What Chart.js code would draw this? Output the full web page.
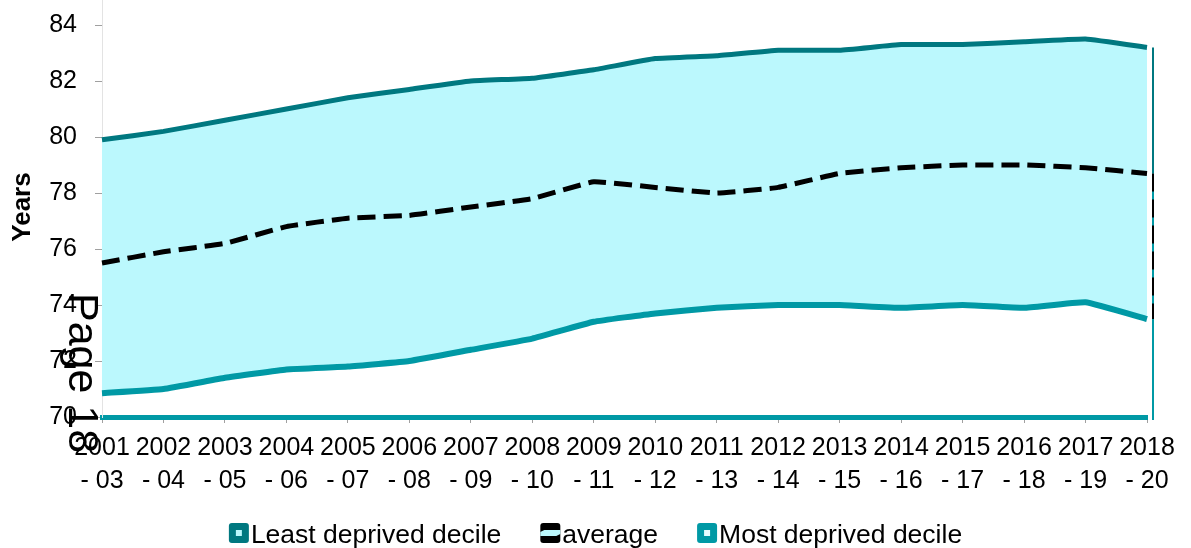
<!DOCTYPE html>
<html>
<head>
<meta charset="utf-8">
<script src="https://cdn.jsdelivr.net/npm/chart.js@4/dist/chart.umd.min.js"></script>
<style>
  html, body { margin: 0; padding: 0; background: #ffffff; }
  #wrap { width: 1191px; height: 548px; }
</style>
</head>
<body>
<div id="wrap"><canvas id="c" width="1191" height="548"></canvas></div>
<script>
// Three-year periods, shown on two lines each
const periods = [
  ['2001', '- 03'], ['2002', '- 04'], ['2003', '- 05'], ['2004', '- 06'],
  ['2005', '- 07'], ['2006', '- 08'], ['2007', '- 09'], ['2008', '- 10'],
  ['2009', '- 11'], ['2010', '- 12'], ['2011', '- 13'], ['2012', '- 14'],
  ['2013', '- 15'], ['2014', '- 16'], ['2015', '- 17'], ['2016', '- 18'],
  ['2017', '- 19'], ['2018', '- 20']
];

// Life expectancy in years
const leastDeprived = [79.9, 80.2, 80.6, 81.0, 81.4, 81.7, 82.0, 82.1, 82.4, 82.8, 82.9, 83.1, 83.1, 83.3, 83.3, 83.4, 83.5, 83.2];
const average       = [75.5, 75.9, 76.2, 76.8, 77.1, 77.2, 77.5, 77.8, 78.4, 78.2, 78.0, 78.2, 78.7, 78.9, 79.0, 79.0, 78.9, 78.7];
const mostDeprived  = [70.85, 71.0, 71.4, 71.7, 71.8, 72.0, 72.4, 72.8, 73.4, 73.7, 73.9, 74.0, 74.0, 73.9, 74.0, 73.9, 74.1, 73.5];

const yMin = 70, yMax = 84, yStep = 2;

const LEAST = '#007880';
const MOST = '#0099a5';
const BAND = '#bbf8fd';
const FONT = "'Liberation Sans', Arial, sans-serif";

function roundBox(ctx, x, y, w, h, r) {
  ctx.beginPath();
  if (ctx.roundRect) ctx.roundRect(x, y, w, h, r); else ctx.rect(x, y, w, h);
  ctx.fill();
}

// Legend symbols, one per dataset
const legendSymbols = [
  (ctx, x, y) => { ctx.fillStyle = LEAST; roundBox(ctx, x, y, 20, 20, 3); ctx.fillStyle = BAND; ctx.fillRect(x + 7, y + 7, 6, 6); },
  (ctx, x, y) => {
    ctx.fillStyle = '#000000'; roundBox(ctx, x, y, 20, 20, 3);
    ctx.fillStyle = BAND;
    ctx.beginPath();
    ctx.moveTo(x + 4, y + 7); ctx.lineTo(x + 20, y + 7); ctx.lineTo(x + 20, y + 11);
    ctx.lineTo(x + 16, y + 13); ctx.lineTo(x, y + 13); ctx.lineTo(x, y + 9); ctx.closePath();
    ctx.fill();
  },
  (ctx, x, y) => { ctx.fillStyle = MOST; roundBox(ctx, x, y, 20, 20, 3); ctx.fillStyle = '#e6fdff'; ctx.fillRect(x + 7, y + 7, 6, 6); }
];

// Extra drawing: axis extension, closing edge of the band, axis title, legend and page stamp
const extras = {
  id: 'extras',
  afterDraw(chart) {
    const { ctx, chartArea: a, scales: { y } } = chart;
    const last = periods.length - 1;
    ctx.save();

    // y axis line continues up to the top edge
    ctx.strokeStyle = '#e3e3e3';
    ctx.lineWidth = 1;
    ctx.beginPath();
    ctx.moveTo(a.left + 0.5, 0);
    ctx.lineTo(a.left + 0.5, a.top);
    ctx.stroke();

    // closing edge at the right of the band
    const ex = a.right + 6;
    const yTop = y.getPixelForValue(leastDeprived[last]);
    const yAvg = y.getPixelForValue(average[last]);
    const yLow = y.getPixelForValue(mostDeprived[last]);
    const yBase = y.getPixelForValue(yMin) + 3;
    ctx.lineWidth = 2;
    ctx.strokeStyle = LEAST;
    ctx.beginPath(); ctx.moveTo(ex, yTop); ctx.lineTo(ex, yAvg); ctx.stroke();
    ctx.strokeStyle = MOST;
    ctx.beginPath(); ctx.moveTo(ex, yAvg); ctx.lineTo(ex, yBase); ctx.stroke();
    ctx.strokeStyle = '#000000';
    ctx.setLineDash([18, 8]);
    ctx.beginPath(); ctx.moveTo(ex, yAvg); ctx.lineTo(ex, yLow); ctx.stroke();
    ctx.setLineDash([]);

    // axis title
    ctx.fillStyle = '#000000';
    ctx.font = 'bold 26px ' + FONT;
    ctx.textAlign = 'center';
    ctx.textBaseline = 'middle';
    ctx.translate(23, 207);
    ctx.rotate(-Math.PI / 2);
    ctx.fillText('Years', 0, 0);
    ctx.setTransform(1, 0, 0, 1, 0, 0);

    // legend row, centred under the chart
    ctx.font = '26.5px ' + FONT;
    ctx.textAlign = 'left';
    ctx.textBaseline = 'alphabetic';
    const labels = chart.data.datasets.map(d => d.label);
    const widths = labels.map(t => ctx.measureText(t).width);
    const box = 20, gap = 2, spacing = 39;
    const total = widths.reduce((s, w) => s + box + gap + w, 0) + spacing * (labels.length - 1);
    let lx = (chart.width - total) / 2;
    const boxTop = 523;
    labels.forEach((t, i) => {
      legendSymbols[i](ctx, lx, boxTop);
      ctx.fillStyle = '#000000';
      ctx.fillText(t, lx + box + gap, boxTop + 19.5);
      lx += box + gap + widths[i] + spacing;
    });

    // page stamp
    ctx.font = '43px ' + FONT;
    ctx.fillStyle = '#000000';
    ctx.translate(69, 293);
    ctx.rotate(Math.PI / 2);
    ctx.fillText('Page 18', 0, 0);
    ctx.restore();
  }
};

new Chart(document.getElementById('c'), {
  type: 'line',
  data: {
    labels: periods,
    datasets: [
      {
        label: 'Least deprived decile',
        data: leastDeprived,
        borderColor: LEAST,
        backgroundColor: BAND,
        borderWidth: 5,
        fill: { target: 2, above: BAND, below: BAND },
        pointRadius: 0,
        tension: 0.1
      },
      {
        label: 'average',
        data: average,
        borderColor: '#000000',
        backgroundColor: BAND,
        borderWidth: 5,
        borderDash: [18, 8],
        fill: false,
        pointRadius: 0,
        tension: 0.1
      },
      {
        label: 'Most deprived decile',
        data: mostDeprived,
        borderColor: MOST,
        backgroundColor: '#e6fdff',
        borderWidth: 6,
        fill: false,
        pointRadius: 0,
        tension: 0.1
      }
    ]
  },
  options: {
    responsive: false,
    animation: false,
    devicePixelRatio: 1,
    layout: { padding: { top: 25, right: 44, bottom: 52.5, left: 0 } },
    scales: {
      x: {
        offset: false,
        afterFit(s) { s.height = 78.5; },
        grid: { drawOnChartArea: false, drawTicks: true, tickLength: 6, color: '#a0a0a0' },
        border: { color: MOST, width: 5 },
        ticks: {
          color: '#000000',
          font: { family: FONT, size: 25, lineHeight: 1.3 },
          padding: 9,
          maxRotation: 0,
          autoSkip: false
        }
      },
      y: {
        min: yMin,
        max: yMax,
        afterFit(s) { s.width = 102; s.paddingTop = 0; s.paddingBottom = 0; },
        grid: { drawOnChartArea: false, drawTicks: true, tickLength: 7, color: '#a0a0a0' },
        border: { color: '#e3e3e3', width: 1 },
        ticks: {
          stepSize: yStep,
          color: '#000000',
          font: { family: FONT, size: 25 },
          padding: 18
        }
      }
    },
    plugins: {
      filler: { drawTime: 'beforeDatasetsDraw' },
      tooltip: { enabled: false },
      legend: { display: false }
    }
  },
  plugins: [extras]
});
</script>
</body>
</html>
